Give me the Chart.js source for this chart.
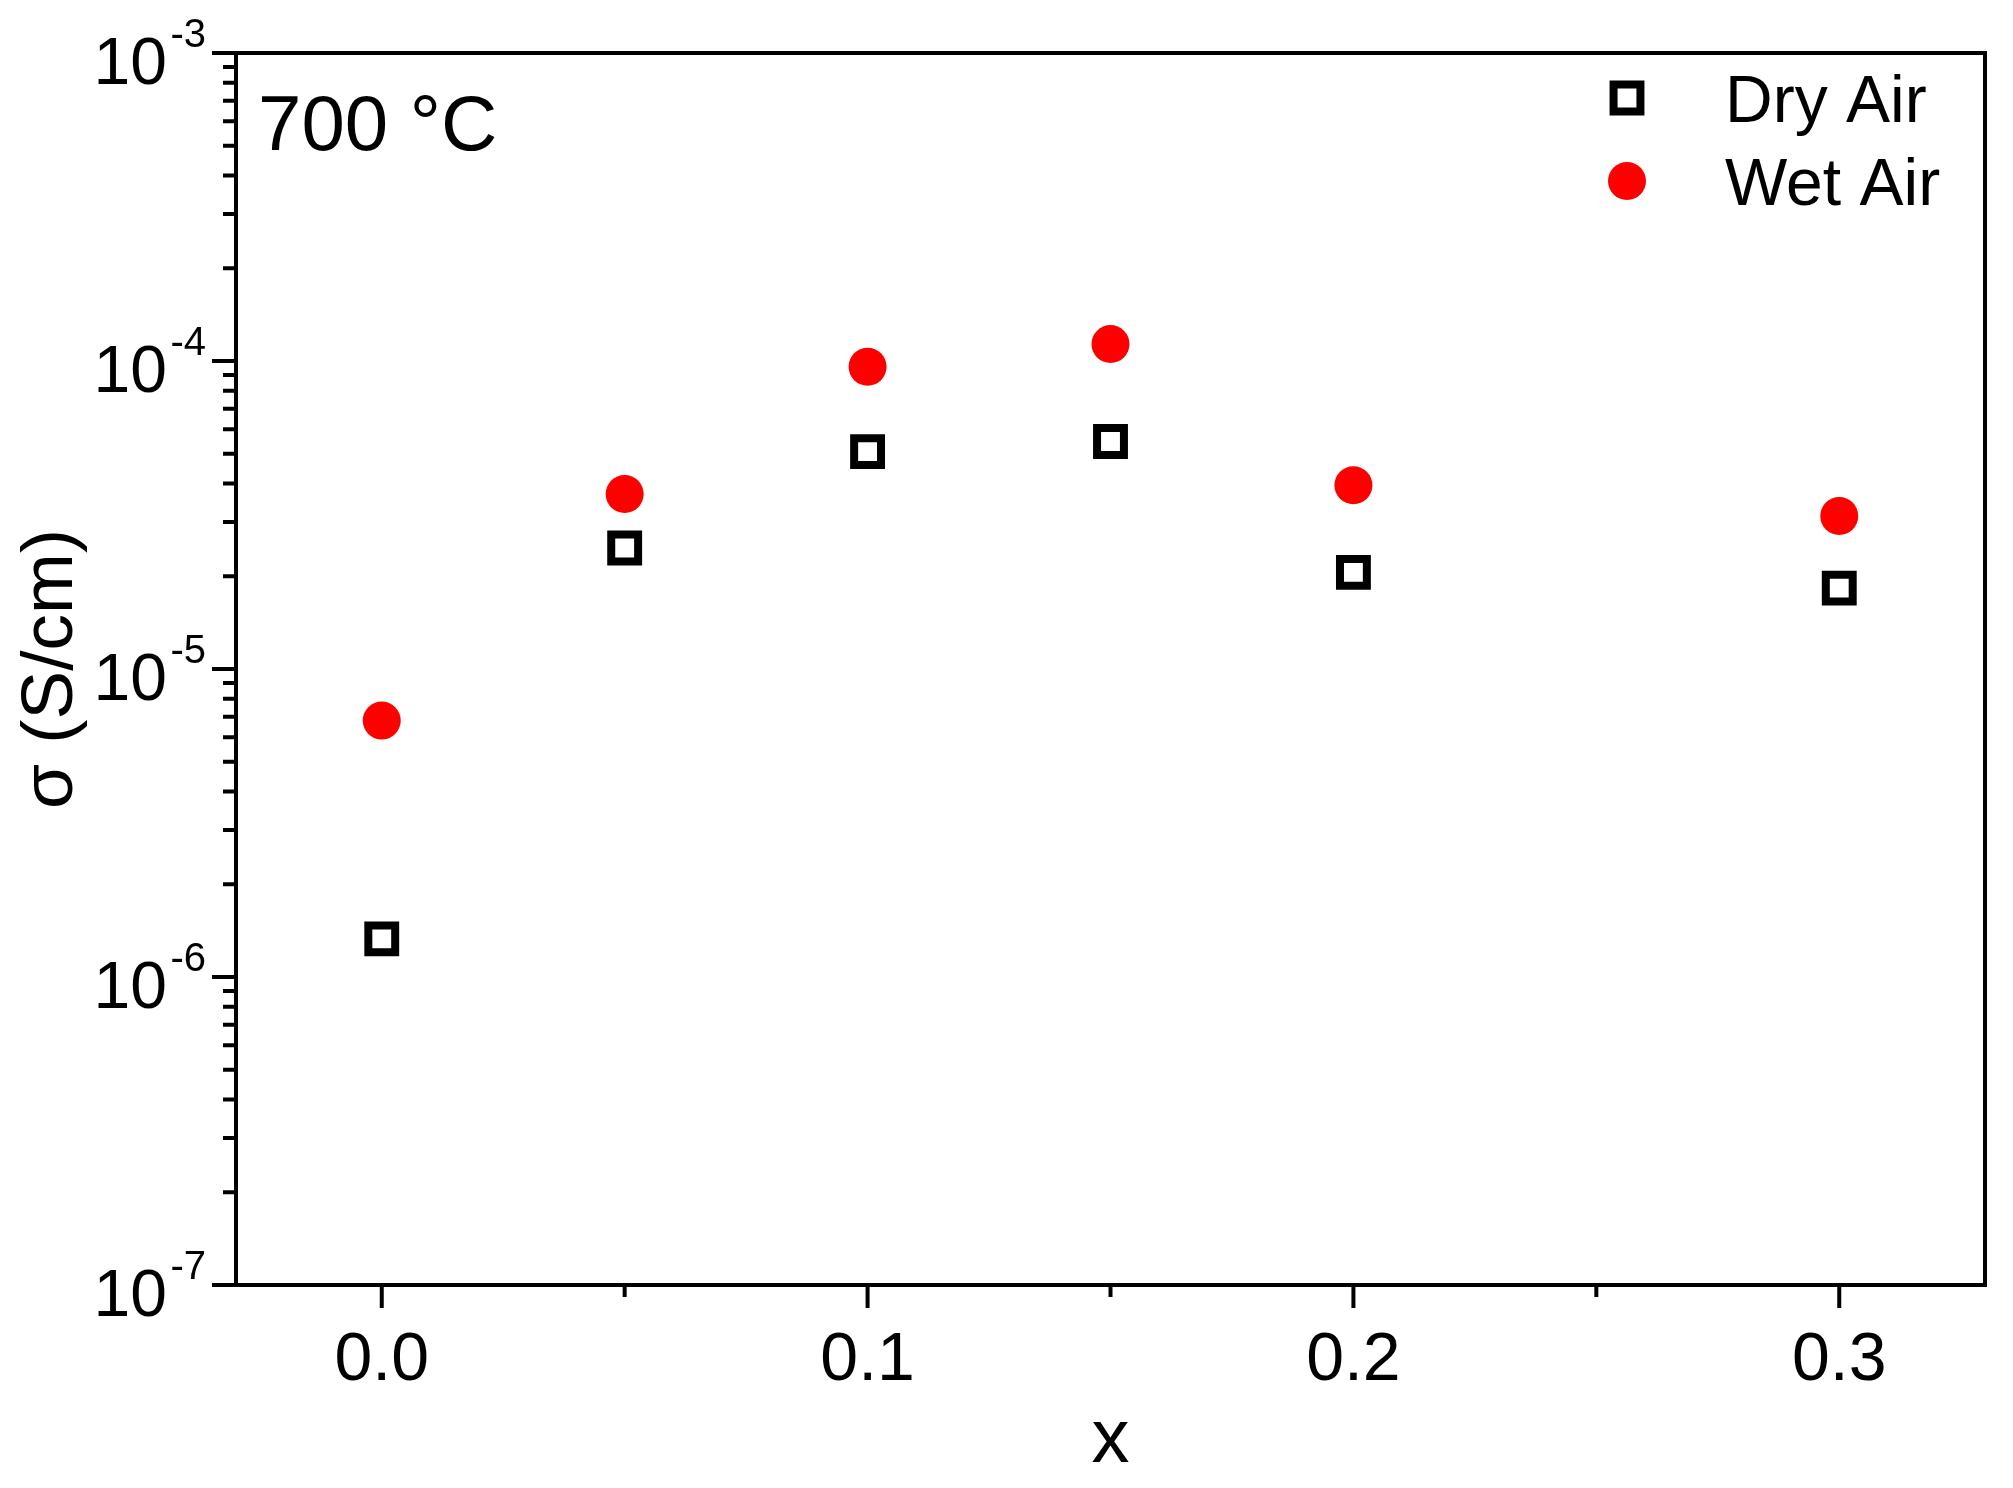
<!DOCTYPE html>
<html>
<head>
<meta charset="utf-8">
<title>Conductivity vs x, 700 °C</title>
<script src="https://cdn.jsdelivr.net/npm/chart.js@4.4.0/dist/chart.umd.min.js"></script>
<style>
    html, body { margin: 0; padding: 0; background: #fff; }
    #wrap { width: 2013px; height: 1488px; }
</style>
</head>
<body>
<div id="wrap"><canvas id="chart" width="2013" height="1488"></canvas></div>
<script>
// Données
const xValues = [0, 0.05, 0.1, 0.15, 0.2, 0.3];
const dryAir = [1.33e-6, 2.47e-5, 5.08e-5, 5.48e-5, 2.06e-5, 1.83e-5];
const wetAir = [6.8e-6, 3.70e-5, 9.58e-5, 1.135e-4, 3.95e-5, 3.14e-5];

const xTicks = [0, 0.05, 0.1, 0.15, 0.2, 0.25, 0.3];
const xTickLabels = ['0.0', '', '0.1', '', '0.2', '', '0.3'];
const yDecades = [-7, -6, -5, -4, -3];

const seriesNames = ['Dry Air', 'Wet Air'];
const annotation = '700 °C';
const xTitle = 'x';
const yTitle = 'σ (S/cm)';

const FONT = '"Liberation Sans", Arial, Helvetica, sans-serif';

function toPoints(xs, ys) {
    return xs.map((x, i) => ({ x: x, y: ys[i] }));
}

// Cadre, graduations et textes dessinés à partir des échelles de Chart.js
const decor = {
    id: 'decor',
    beforeDatasetsDraw(chart) {
        const { ctx, chartArea: a, scales } = chart;
        const xs = scales.x, ys = scales.y;
        ctx.save();
        ctx.strokeStyle = '#000';
        ctx.lineWidth = 4;
        ctx.lineCap = 'butt';
        ctx.strokeRect(a.left, a.top, a.right - a.left, a.bottom - a.top);

        // graduations de l'axe Y (log)
        ctx.beginPath();
        yDecades.forEach(d => {
            const yMaj = ys.getPixelForValue(Math.pow(10, d));
            ctx.moveTo(a.left - 24, yMaj);
            ctx.lineTo(a.left, yMaj);
            if (d < yDecades[yDecades.length - 1]) {
                for (let m = 2; m <= 9; m++) {
                    const yMin = ys.getPixelForValue(m * Math.pow(10, d));
                    ctx.moveTo(a.left - 13, yMin);
                    ctx.lineTo(a.left, yMin);
                }
            }
        });
        // graduations de l'axe X
        xTicks.forEach((v, i) => {
            const px = xs.getPixelForValue(v);
            const len = xTickLabels[i] ? 23 : 12;
            ctx.moveTo(px, a.bottom);
            ctx.lineTo(px, a.bottom + len);
        });
        ctx.stroke();
        ctx.restore();
    },
    afterDraw(chart) {
        const { ctx, chartArea: a, scales } = chart;
        const xs = scales.x, ys = scales.y;
        ctx.save();
        ctx.fillStyle = '#000';

        // étiquettes Y : 10 avec exposant
        yDecades.forEach(d => {
            const py = ys.getPixelForValue(Math.pow(10, d));
            ctx.textAlign = 'right';
            ctx.textBaseline = 'alphabetic';
            ctx.font = '66px ' + FONT;
            ctx.fillText('10', 167, py + 31);
            ctx.font = '40px ' + FONT;
            ctx.fillText(String(d), 206, py - 6);
        });

        // étiquettes X
        ctx.font = '68px ' + FONT;
        ctx.textAlign = 'center';
        xTicks.forEach((v, i) => {
            if (xTickLabels[i]) ctx.fillText(xTickLabels[i], xs.getPixelForValue(v), 1380);
        });

        // titres des axes
        ctx.font = '76px ' + FONT;
        ctx.fillText(xTitle, (a.left + a.right) / 2, 1462);
        ctx.save();
        ctx.font = '73px ' + FONT;
        ctx.translate(72, (a.top + a.bottom) / 2);
        ctx.rotate(-Math.PI / 2);
        ctx.fillText(yTitle, 0, 0);
        ctx.restore();

        // annotation température
        ctx.font = '78px ' + FONT;
        ctx.textAlign = 'left';
        ctx.fillText(annotation, 258, 150);

        // légende
        chart.data.datasets.forEach((ds, i) => {
            const my = 98 + i * 83;
            ctx.save();
            ctx.fillStyle = ds.backgroundColor;
            ctx.strokeStyle = ds.borderColor;
            ctx.lineWidth = ds.pointBorderWidth;
            Chart.helpers.drawPoint(ctx, {
                pointStyle: ds.pointStyle,
                radius: ds.pointRadius,
                borderWidth: ds.pointBorderWidth,
                rotation: 0
            }, 1627, my);
            ctx.restore();
            ctx.font = '66px ' + FONT;
            ctx.fillStyle = '#000';
            ctx.textAlign = 'left';
            ctx.fillText(ds.label, 1725, 122 + i * 83);
        });
        ctx.restore();
    }
};

new Chart(document.getElementById('chart'), {
    type: 'scatter',
    data: {
        datasets: [{
            label: seriesNames[0],
            data: toPoints(xValues, dryAir),
            pointStyle: 'rect',
            pointRadius: 19,
            pointBorderWidth: 8,
            borderColor: '#000000',
            backgroundColor: '#ffffff',
            showLine: false
        }, {
            label: seriesNames[1],
            data: toPoints(xValues, wetAir),
            pointStyle: 'circle',
            pointRadius: 19,
            pointBorderWidth: 0,
            borderColor: '#ff0000',
            backgroundColor: '#ff0000',
            showLine: false
        }]
    },
    options: {
        responsive: false,
        devicePixelRatio: 1,
        animation: false,
        events: [],
        layout: { padding: { left: 236, top: 53, right: 28, bottom: 203 } },
        plugins: {
            legend: { display: false },
            tooltip: { enabled: false }
        },
        scales: {
            x: { type: 'linear', min: -0.03, max: 0.33, display: false },
            y: { type: 'logarithmic', min: 1e-7, max: 1e-3, display: false }
        }
    },
    plugins: [decor]
});
</script>
</body>
</html>
